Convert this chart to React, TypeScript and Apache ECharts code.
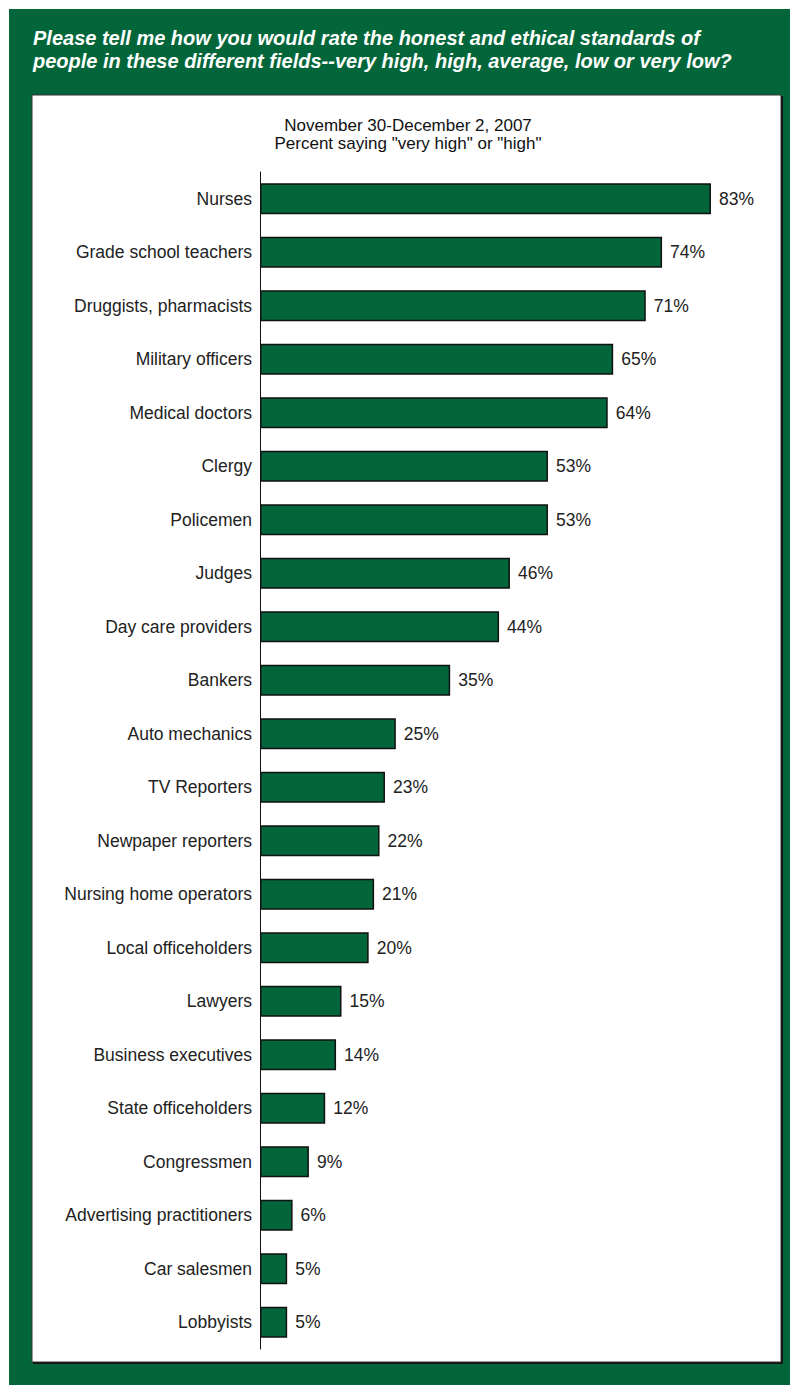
import React, { useEffect, useRef } from "react";
import * as echarts from "echarts";

const categories = [
  "Nurses",
  "Grade school teachers",
  "Druggists, pharmacists",
  "Military officers",
  "Medical doctors",
  "Clergy",
  "Policemen",
  "Judges",
  "Day care providers",
  "Bankers",
  "Auto mechanics",
  "TV Reporters",
  "Newpaper reporters",
  "Nursing home operators",
  "Local officeholders",
  "Lawyers",
  "Business executives",
  "State officeholders",
  "Congressmen",
  "Advertising practitioners",
  "Car salesmen",
  "Lobbyists",
];
const values = [83, 74, 71, 65, 64, 53, 53, 46, 44, 35, 25, 23, 22, 21, 20, 15, 14, 12, 9, 6, 5, 5];

const titleLines = [
  "Please tell me how you would rate the honest and ethical standards of",
  "people in these different fields--very high, high, average, low or very low?",
];
const subtitleLines = ["November 30-December 2, 2007", 'Percent saying "very high" or "high"'];

const GREEN = "#03663a";
const FONT = "'Liberation Sans', Arial, sans-serif";

export default function App() {
  const ref = useRef<HTMLDivElement>(null);
  useEffect(() => {
    document.body.style.margin = "0";
    const chart = echarts.init(ref.current!, null, { renderer: "svg" });
    chart.setOption({
      animation: false,
      backgroundColor: "#ffffff",
      graphic: [
        { type: "rect", shape: { x: 9, y: 9, width: 781, height: 1376 }, style: { fill: GREEN }, z: -10 },
        { type: "rect", shape: { x: 33, y: 96, width: 750, height: 1268 }, style: { fill: "#111" }, z: -9 },
        { type: "rect", shape: { x: 32, y: 95, width: 749, height: 1267 }, style: { fill: "#ffffff", stroke: "#333", lineWidth: 1 }, z: -8 },
        ...titleLines.map((t, i) => ({
          type: "text",
          x: 33,
          y: 38 + i * 23,
          style: { text: t, fill: "#ffffff", font: `italic bold 20px ${FONT}`, textVerticalAlign: "middle" },
          z: 5,
        })),
        ...subtitleLines.map((t, i) => ({
          type: "text",
          x: 408,
          y: 125 + i * 18,
          style: { text: t, fill: "#111", font: `17px ${FONT}`, textAlign: "center", textVerticalAlign: "middle" },
          z: 5,
        })),
      ],
      grid: { left: 260, top: 172, height: 1177, right: 41, containLabel: false },
      xAxis: {
        type: "value",
        min: 0,
        max: 90,
        show: false,
      },
      yAxis: {
        type: "category",
        data: categories,
        inverse: true,
        axisLine: { show: true, lineStyle: { color: "#111", width: 1 } },
        axisTick: { show: false },
        axisLabel: { color: "#222", fontSize: 17.5, fontFamily: FONT, margin: 8 },
      },
      series: [
        {
          type: "bar",
          data: values,
          barWidth: 31,
          itemStyle: { color: GREEN, borderColor: "#111", borderWidth: 1.5 },
          label: {
            show: true,
            position: "right",
            distance: 8,
            formatter: "{c}%",
            color: "#222",
            fontSize: 17.5,
            fontFamily: FONT,
          },
        },
      ],
    });
    return () => chart.dispose();
  }, []);
  return <div ref={ref} style={{ width: 790, height: 1385 }} />;
}
